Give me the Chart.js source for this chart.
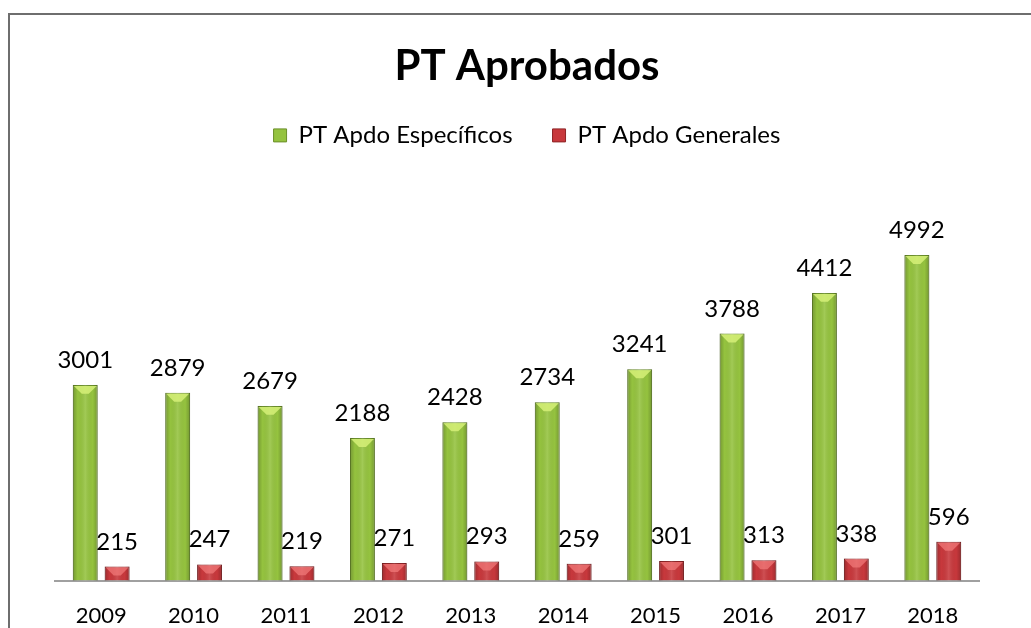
<!DOCTYPE html>
<html>
<head>
<meta charset="utf-8">
<script src="https://cdn.jsdelivr.net/npm/chart.js@4.4.1/dist/chart.umd.min.js"></script>
<style>
  html, body { margin: 0; padding: 0; background: #fff; overflow: hidden; }
  #frame { position: absolute; left: 8px; top: 13px; width: 1100px; height: 700px; border: 2px solid #6e6e6e; }
  #wrap { position: absolute; left: 0; top: 0; width: 1031px; height: 651px; }
</style>
</head>
<body>
<div id="frame"></div>
<div id="wrap"><canvas id="chart"></canvas></div>
<script>
// data
const years = ['2009', '2010', '2011', '2012', '2013', '2014', '2015', '2016', '2017', '2018'];
const especificos = [3001, 2879, 2679, 2188, 2428, 2734, 3241, 3788, 4412, 4992];
const generales = [215, 247, 219, 271, 293, 259, 301, 313, 338, 596];
const seriesNames = ['PT Apdo Específicos', 'PT Apdo Generales'];

const FONT = 'Lato, "Noto Sans", sans-serif';

// bevel look of the bars (lighter top, darker sides)
const bevelPlugin = {
    id: 'bevel',
    afterDatasetsDraw(chart) {
        const ctx = chart.ctx;
        const tops = ['rgba(214, 240, 120, 0.85)', 'rgba(240, 120, 120, 0.75)'];
        chart.data.datasets.forEach(function (ds, di) {
            const meta = chart.getDatasetMeta(di);
            meta.data.forEach(function (bar) {
                const p = bar.getProps(['x', 'y', 'base', 'width'], true);
                const l = p.x - p.width / 2, r = p.x + p.width / 2;
                const g = ctx.createLinearGradient(l, 0, r, 0);
                g.addColorStop(0, 'rgba(0,0,0,0.22)');
                g.addColorStop(0.2, 'rgba(0,0,0,0.0)');
                g.addColorStop(0.5, 'rgba(255,255,255,0.12)');
                g.addColorStop(0.8, 'rgba(0,0,0,0.0)');
                g.addColorStop(1, 'rgba(0,0,0,0.22)');
                ctx.save();
                ctx.fillStyle = g;
                ctx.fillRect(l, p.y, p.width, p.base - p.y);
                const d = p.width * 0.36;
                ctx.beginPath();
                ctx.moveTo(l + 1, p.y + 1);
                ctx.lineTo(r - 1, p.y + 1);
                ctx.lineTo(r - d, p.y + d);
                ctx.lineTo(l + d, p.y + d);
                ctx.closePath();
                ctx.fillStyle = tops[di];
                ctx.fill();
                ctx.restore();
            });
        });
    }
};

// value labels above every bar
const valueLabels = {
    id: 'valueLabels',
    afterDatasetsDraw(chart) {
        const ctx = chart.ctx;
        ctx.save();
        ctx.font = '24px ' + FONT;
        ctx.fillStyle = '#000';
        ctx.textAlign = 'center';
        ctx.textBaseline = 'alphabetic';
        chart.data.datasets.forEach(function (ds, di) {
            chart.getDatasetMeta(di).data.forEach(function (bar, i) {
                ctx.fillText(String(ds.data[i]), bar.x, bar.y - 17);
            });
        });
        ctx.restore();
    }
};

new Chart(document.getElementById('chart'), {
    type: 'bar',
    data: {
        labels: years,
        datasets: [
            {
                label: seriesNames[0],
                data: especificos,
                backgroundColor: '#95c33f',
                borderColor: '#6b8f2a',
                borderWidth: 1,
                borderSkipped: 'bottom'
            },
            {
                label: seriesNames[1],
                data: generales,
                backgroundColor: '#c8383c',
                borderColor: '#8e2426',
                borderWidth: 1,
                borderSkipped: 'bottom'
            }
        ]
    },
    options: {
        responsive: true,
        maintainAspectRatio: false,
        animation: false,
        categoryPercentage: 0.69,
        barPercentage: 0.78,
        layout: { padding: { left: 55, right: 32, top: 0, bottom: 0 } },
        plugins: {
            title: {
                display: true,
                text: 'PT Aprobados',
                color: '#000',
                font: { family: FONT, size: 42, weight: 'bold' },
                padding: { top: 41, bottom: -8 }
            },
            legend: {
                display: true,
                labels: {
                    color: '#000',
                    font: { family: FONT, size: 24 },
                    boxWidth: 13,
                    boxHeight: 13,
                    padding: 40
                }
            },
            tooltip: { enabled: false }
        },
        scales: {
            x: {
                grid: { display: false, drawTicks: false },
                border: { display: true, color: '#a0a0a0', width: 2 },
                ticks: { color: '#000', font: { family: FONT, size: 22 }, padding: 22 }
            },
            y: {
                position: 'right',
                min: 0,
                max: 6490,
                grid: { display: false, drawTicks: false },
                border: { display: false },
                ticks: { display: false },
                afterFit: function (scale) { scale.width = 20; }
            }
        }
    },
    plugins: [bevelPlugin, valueLabels]
});
</script>
</body>
</html>
